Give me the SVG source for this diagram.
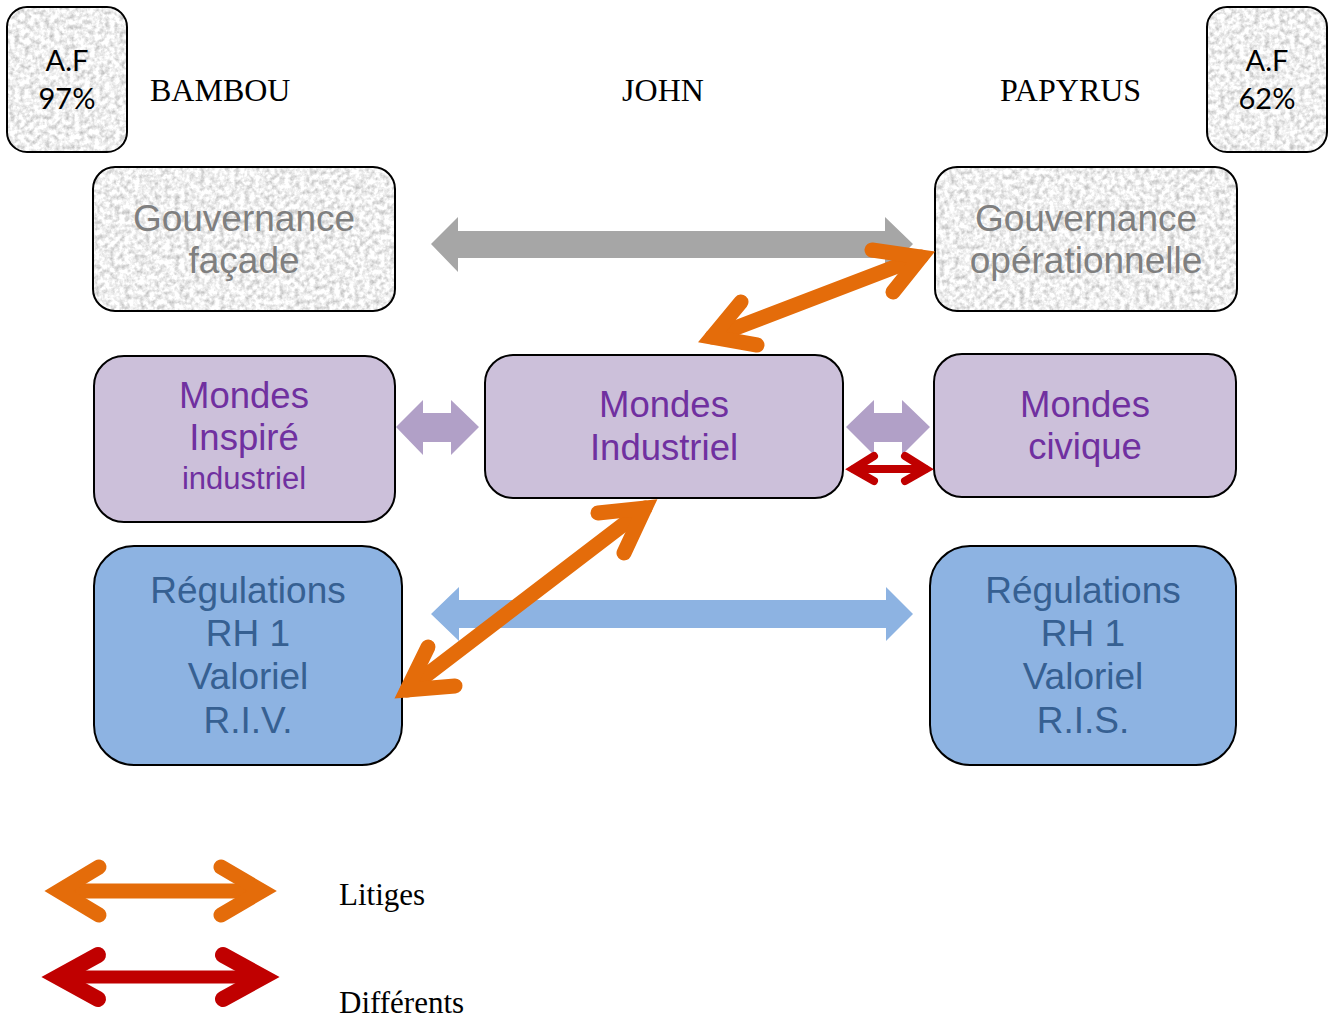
<svg xmlns="http://www.w3.org/2000/svg" width="1332" height="1020" viewBox="0 0 1332 1020">
<defs>
<style>
.box{stroke:#000;stroke-width:2}
.paper{fill:#ececec}
.mauve{fill:#ccc0da}
.bleu{fill:#8db3e2}
.outline{fill:none;stroke:#000;stroke-width:2}
.af{font-family:Lato,"Open Sans",sans-serif;font-size:29px;fill:#000;text-anchor:middle}
.head{font-family:"Liberation Serif","Times New Roman",serif;font-size:32px;fill:#000}
.gv{font-family:"Liberation Sans",Arial,sans-serif;font-size:37px;fill:#7f7f7f;text-anchor:middle}
.md{font-family:"Liberation Sans",Arial,sans-serif;font-size:36.5px;fill:#7030a0;text-anchor:middle}
.rg{font-family:"Liberation Sans",Arial,sans-serif;font-size:37px;fill:#366092;text-anchor:middle}
.leg{font-family:"Liberation Serif","Times New Roman",serif;font-size:31px;fill:#000}
.or{fill:none;stroke:#e46c0a;stroke-width:15;stroke-linecap:round;stroke-linejoin:miter;stroke-miterlimit:10}
.rd{fill:none;stroke:#c00000;stroke-linecap:round;stroke-linejoin:miter;stroke-miterlimit:10}
</style>
<filter id="paperTex" x="0" y="0" width="1" height="1" color-interpolation-filters="sRGB">
<feTurbulence type="fractalNoise" baseFrequency="0.2" numOctaves="3" seed="4" result="n"/>
<feColorMatrix in="n" type="matrix" values="1 0 0 0 0  1 0 0 0 0  1 0 0 0 0  0 0 0 0 1" result="g"/>
<feComponentTransfer in="g" result="m">
<feFuncR type="linear" slope="0.5" intercept="0.69"/>
<feFuncG type="linear" slope="0.5" intercept="0.69"/>
<feFuncB type="linear" slope="0.5" intercept="0.69"/>
</feComponentTransfer>
<feComposite in="m" in2="SourceAlpha" operator="in"/>
</filter>
</defs>
<rect width="1332" height="1020" fill="#fff"/>

<!-- headers -->
<text class="head" x="150" y="101">BAMBOU</text>
<text class="head" x="663" y="101" text-anchor="middle">JOHN</text>
<text class="head" x="1000" y="101">PAPYRUS</text>

<g id="af-bambou">
<rect class="paper" x="7" y="7" width="120" height="145" rx="20"/>
<rect x="7" y="7" width="120" height="145" rx="20" fill="#000" filter="url(#paperTex)"/>
<rect class="outline" x="7" y="7" width="120" height="145" rx="20"/>
<text class="af" x="67" y="71">A.F</text>
<text class="af" x="67" y="109">97%</text>
</g>

<g id="af-papyrus">
<rect class="paper" x="1207" y="7" width="120" height="145" rx="20"/>
<rect x="1207" y="7" width="120" height="145" rx="20" fill="#000" filter="url(#paperTex)"/>
<rect class="outline" x="1207" y="7" width="120" height="145" rx="20"/>
<text class="af" x="1267" y="71">A.F</text>
<text class="af" x="1267" y="109">62%</text>
</g>

<g id="gouv-facade">
<rect class="paper" x="93" y="167" width="302" height="144" rx="22"/>
<rect x="93" y="167" width="302" height="144" rx="22" fill="#000" filter="url(#paperTex)"/>
<rect class="outline" x="93" y="167" width="302" height="144" rx="22"/>
<text class="gv" x="244" y="231">Gouvernance</text>
<text class="gv" x="244" y="273">façade</text>
</g>

<g id="gouv-operationnelle">
<rect class="paper" x="935" y="167" width="302" height="144" rx="22"/>
<rect x="935" y="167" width="302" height="144" rx="22" fill="#000" filter="url(#paperTex)"/>
<rect class="outline" x="935" y="167" width="302" height="144" rx="22"/>
<text class="gv" x="1086" y="231">Gouvernance</text>
<text class="gv" x="1086" y="273">opérationnelle</text>
</g>

<g id="mondes-inspire">
<rect class="box mauve" x="94" y="356" width="301" height="166" rx="30"/>
<text class="md" x="244" y="408">Mondes</text>
<text class="md" x="244" y="450">Inspiré</text>
<text class="md" x="244" y="489" style="font-size:31px">industriel</text>
</g>

<g id="mondes-industriel">
<rect class="box mauve" x="485" y="355" width="358" height="143" rx="28"/>
<text class="md" x="664" y="417">Mondes</text>
<text class="md" x="664" y="460">Industriel</text>
</g>

<g id="mondes-civique">
<rect class="box mauve" x="934" y="354" width="302" height="143" rx="28"/>
<text class="md" x="1085" y="417">Mondes</text>
<text class="md" x="1085" y="459">civique</text>
</g>

<g id="regulations-riv">
<rect class="box bleu" x="94" y="546" width="308" height="219" rx="40"/>
<text class="rg" x="248" y="603">Régulations</text>
<text class="rg" x="248" y="646">RH 1</text>
<text class="rg" x="248" y="689">Valoriel</text>
<text class="rg" x="248" y="733">R.I.V.</text>
</g>

<g id="regulations-ris">
<rect class="box bleu" x="930" y="546" width="306" height="219" rx="40"/>
<text class="rg" x="1083" y="603">Régulations</text>
<text class="rg" x="1083" y="646">RH 1</text>
<text class="rg" x="1083" y="689">Valoriel</text>
<text class="rg" x="1083" y="733">R.I.S.</text>
</g>

<g id="connectors">
<polygon fill="#a6a6a6" points="431,244 458,217 458,231 885,231 885,217 913,244 885,272 885,258 458,258 458,272"/>
<polygon fill="#8db3e2" points="431,614 459,587 459,600 886,600 886,587 913,614 886,641 886,628 459,628 459,641"/>
<polygon fill="#b1a0c7" points="396,427 423,400 423,413 451,413 451,400 479,427 451,455 451,442 423,442 423,455"/>
<polygon fill="#b1a0c7" points="846,427 874,400 874,413 902,413 902,400 930,427 902,455 902,442 874,442 874,455"/>
<g class="rd" style="stroke-width:8">
<path d="M854,469 L925,469"/>
<path d="M874,456 L853,469 L874,481"/>
<path d="M905,456 L926,469 L905,481"/>
</g>
<g class="or">
<path d="M712,337 L921,257"/>
<path d="M872,250 L921,257 L893,292"/>
<path d="M741,302 L712,337 L757,345"/>
<path d="M645,508 L407,690"/>
<path d="M598,513 L645,508 L624,553"/>
<path d="M428,647 L407,690 L455,686"/>
</g>
</g>

<g id="legend">
<g class="or">
<path d="M60,891 L261,891"/>
<path d="M99,867 L59,891 L99,915"/>
<path d="M221,867 L262,891 L221,915"/>
</g>
<g class="rd">
<path d="M58,977 L263,977" style="stroke-width:13"/>
<path d="M98,955 L58,977 L98,999" style="stroke-width:16"/>
<path d="M223,955 L263,977 L223,999" style="stroke-width:16"/>
</g>
<text class="leg" x="339" y="905">Litiges</text>
<text class="leg" x="339" y="1013">Différents</text>
</g>
</svg>
